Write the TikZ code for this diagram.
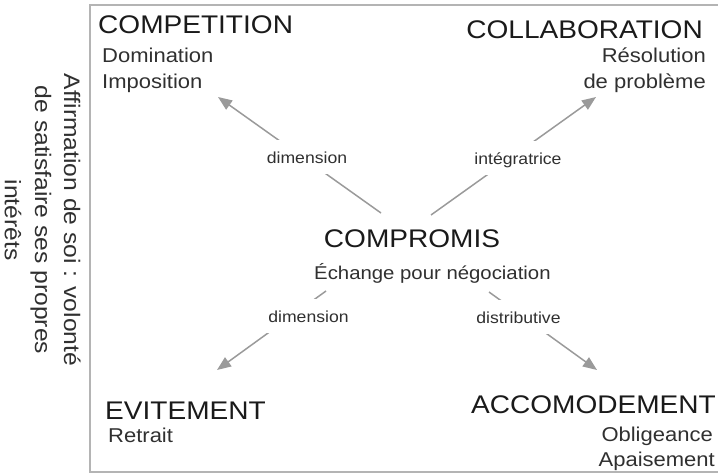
\documentclass[tikz,border=0pt]{standalone}
\usepackage{fontspec}
\setmainfont{Liberation Sans}[FakeStretch=1.1]
\usetikzlibrary{arrows.meta}
\definecolor{arrowgray}{HTML}{9A9A9A}
\definecolor{boxgray}{HTML}{B4B4B4}
\definecolor{txt}{HTML}{1A1A1A}
\definecolor{subtxt}{HTML}{303030}
\begin{document}
\begin{tikzpicture}[x=1pt,y=-1pt,
  title/.style={font=\fontsize{25.5}{30}\selectfont, text=txt, inner sep=0pt},
  sub/.style={font=\fontsize{20}{24}\selectfont, text=subtxt, inner sep=0pt},
  subsmall/.style={font=\fontsize{18.5}{22}\selectfont, text=subtxt, inner sep=0pt},
  lab/.style={font=\fontsize{16}{19}\selectfont, text=subtxt, fill=white, inner xsep=2pt, inner ysep=11pt, text height=12pt, text depth=0pt, anchor=base},
  axis/.style={font=\fontsize{22.4}{28}\selectfont, text=subtxt, inner sep=0pt, rotate=-90, anchor=base},
  conn/.style={draw=arrowgray, line width=1.5pt, -{Triangle[length=14pt,width=11pt]}},
  frame/.style={draw=boxgray, line width=1.5pt}
]
\useasboundingbox (0,0) rectangle (718,474);
% frame
\draw[frame] (725,5) -- (90,5) -- (90,472) -- (725,472);

% axis label
\node[axis] (ax1) at (64,220) {Affirmation de soi : volonté};
\node[axis] (ax2) at (35,220) {de satisfaire ses propres};
\node[axis] (ax3) at (5,220) {intérêts};

% corner texts
\node[title, anchor=base west] (comp) at (98,33) {COMPETITION};
\node[sub, anchor=base west] (dom) at (102,62) {Domination};
\node[sub, anchor=base west] (imp) at (102,88) {Imposition};

\node[title, anchor=base east] (coll) at (703,38) {COLLABORATION};
\node[sub, anchor=base east] (res) at (706,62) {Résolution};
\node[sub, anchor=base east] (pb) at (706,88) {de problème};

\node[title, anchor=base] (compr) at (412,247) {COMPROMIS};
\node[subsmall, anchor=base west] (ech) at (314,279) {Échange pour négociation};

\node[title, anchor=base west] (evit) at (105,419) {EVITEMENT};
\node[sub, anchor=base west] (retr) at (108,442) {Retrait};

\node[title, anchor=base east] (acc) at (716,413) {ACCOMODEMENT};
\node[sub, anchor=base east] (obl) at (713,441) {Obligeance};
\node[sub, anchor=base east] (apa) at (715,466) {Apaisement};

% connectors
\coordinate (s1) at (381,213);
\coordinate (t1) at (218,97);
\coordinate (s2) at (431,215);
\coordinate (t2) at (596,97);
\coordinate (s3) at (326,291);
\coordinate (t3) at (217,370);
\coordinate (s4) at (489,292);
\coordinate (t4) at (597,370);
\draw[conn] (s1) -- (t1);
\draw[conn] (s2) -- (t2);
\draw[conn] (s3) -- (t3);
\draw[conn] (s4) -- (t4);

% labels
\node[lab] (l1) at (307,163) {dimension};
\node[lab] (l2) at (518,164) {intégratrice};
\node[lab] (l3) at (308.5,322) {dimension};
\node[lab] (l4) at (518.5,323) {distributive};
\end{tikzpicture}
\end{document}
